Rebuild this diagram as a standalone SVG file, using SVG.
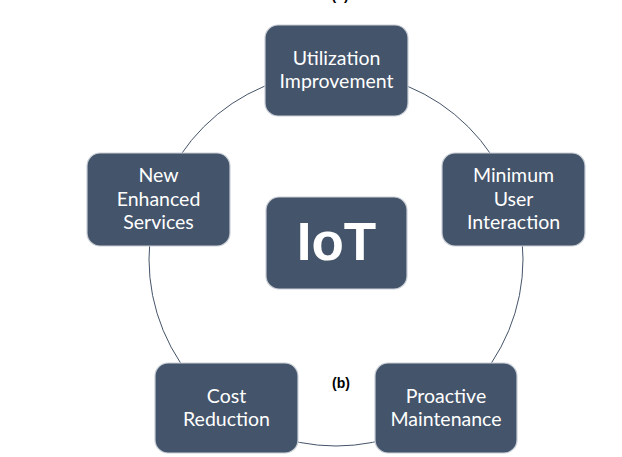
<svg xmlns="http://www.w3.org/2000/svg" width="622" height="457" viewBox="0 0 622 457">
<style>
.box{fill:#44546a;stroke:#c9ced6;stroke-width:1.2}
.lbl{font-family:Lato,"Open Sans",sans-serif;font-size:19.5px;fill:#ffffff;text-anchor:middle}
.cap{font-family:"Liberation Sans",Arial,sans-serif;font-size:14px;font-weight:bold;fill:#000000;text-anchor:middle}
</style>
<rect width="622" height="457" fill="#ffffff"/>
<g id="connectors">
<circle cx="336" cy="259" r="187" fill="none" stroke="#44546a" stroke-width="1"/>
</g>
<text class="cap" x="340" y="0">(a)</text>
<g id="n-utilization">
<rect class="box" x="265" y="25" width="143" height="91" rx="13"/>
<text class="lbl" x="336.5" y="65">Utilization</text>
<text class="lbl" x="336.5" y="88">Improvement</text>
</g>
<g id="n-minimum">
<rect class="box" x="442" y="153" width="143" height="93" rx="13"/>
<text class="lbl" x="513.5" y="182">Minimum</text>
<text class="lbl" x="513.5" y="206">User</text>
<text class="lbl" x="513.5" y="229">Interaction</text>
</g>
<g id="n-new">
<rect class="box" x="87" y="153" width="143" height="93" rx="13"/>
<text class="lbl" x="158.5" y="182">New</text>
<text class="lbl" x="158.5" y="206">Enhanced</text>
<text class="lbl" x="158.5" y="229">Services</text>
</g>
<g id="n-iot">
<rect class="box" x="266" y="197" width="141" height="92" rx="13"/>
<text x="336.5" y="260" style="font-family:'Liberation Sans',Arial,sans-serif;font-size:53px;font-weight:bold;fill:#ffffff;text-anchor:middle">IoT</text>
</g>
<g id="n-cost">
<rect class="box" x="155" y="363" width="143" height="90" rx="13"/>
<text class="lbl" x="226.5" y="403">Cost</text>
<text class="lbl" x="226.5" y="426">Reduction</text>
</g>
<g id="n-proactive">
<rect class="box" x="375" y="363" width="142" height="90" rx="13"/>
<text class="lbl" x="446" y="403">Proactive</text>
<text class="lbl" x="446" y="426">Maintenance</text>
</g>
<text class="cap" x="341" y="388">(b)</text>
</svg>
